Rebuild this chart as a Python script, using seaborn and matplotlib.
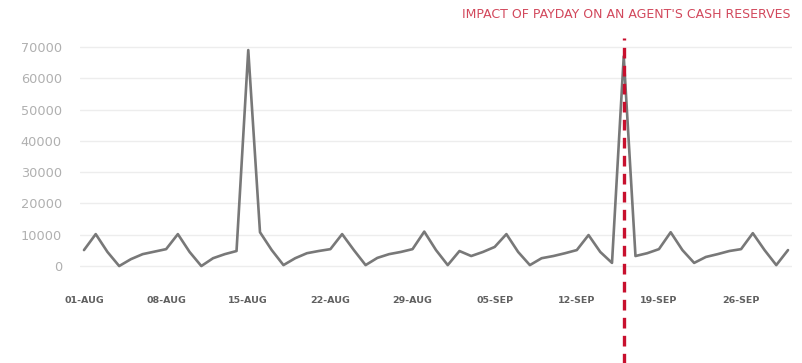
import matplotlib
matplotlib.use("Agg")
import matplotlib.pyplot as plt
import seaborn as sns
import pandas as pd
import numpy as np

# Daily cash reserves, 01-Aug to 30-Sep
dates = pd.date_range("2016-08-01", "2016-09-30", freq="D")
cash = [
    5100, 10200, 4500, 0, 2200, 3800, 4600, 5400, 10200, 4500,       # Aug 1-10
    0, 2500, 3800, 4800, 69000, 10800, 5100, 300, 2500, 4100,        # Aug 11-20
    4800, 5400, 10200, 5100, 300, 2600, 3800, 4500, 5400, 11000,     # Aug 21-30
    5100, 300, 4800, 3200, 4500, 6100, 10200, 4500, 300, 2500,       # Aug 31-Sep 9
    3200, 4100, 5100, 9900, 4500, 1000, 67000, 3200, 4100, 5400,     # Sep 10-19
    10800, 5100, 1000, 2900, 3800, 4800, 5400, 10500, 5100, 300,     # Sep 20-29
    5100,                                                            # Sep 30
]
tick_dates = ["01-AUG", "08-AUG", "15-AUG", "22-AUG", "29-AUG",
              "05-SEP", "12-SEP", "19-SEP", "26-SEP"]
y_ticks = [0, 10000, 20000, 30000, 40000, 50000, 60000, 70000]
payday_index = 46
title = "IMPACT OF PAYDAY ON AN AGENT'S CASH RESERVES"

sns.set_theme(style="white")
plt.rcParams["font.family"] = ["DejaVu Sans"]

df = pd.DataFrame({"day": np.arange(len(cash)), "cash": cash})

fig = plt.figure(figsize=(8.02, 3.63), dpi=100)
ax = fig.add_axes([80 / 802, 1 - 272.3 / 363, 712 / 802, 231.6 / 363])

for v in y_ticks:
    ax.axhline(v, color="#ededed", lw=1.0, zorder=0)

sns.lineplot(data=df, x="day", y="cash", ax=ax, color="#787878", lw=1.9, zorder=2)

ax.axvline(payday_index, ymin=-0.40, ymax=1.012, clip_on=False,
           color="#c8102e", lw=2.4, dashes=(3.2, 2.2), zorder=3)

ax.set_xlim(-0.34, 60.34)
ax.set_ylim(-2000, 72000)
ax.set_yticks(y_ticks)
ax.set_yticklabels([str(v) for v in y_ticks], color="#b0b0b0", fontsize=9.3)
ax.set_xticks([0, 7, 14, 21, 28, 35, 42, 49, 56])
ax.set_xticklabels(tick_dates, color="#606060", fontsize=6.8, fontweight="bold")
ax.tick_params(axis="y", length=0, pad=13)
ax.tick_params(axis="x", length=0, pad=17)
ax.set_xlabel("")
ax.set_ylabel("")
for s in ax.spines.values():
    s.set_visible(False)

fig.text(790 / 802, 1 - 14 / 363, title, ha="right", va="center",
         color="#d2485c", fontsize=9)

fig.savefig("out.png", dpi=100)
